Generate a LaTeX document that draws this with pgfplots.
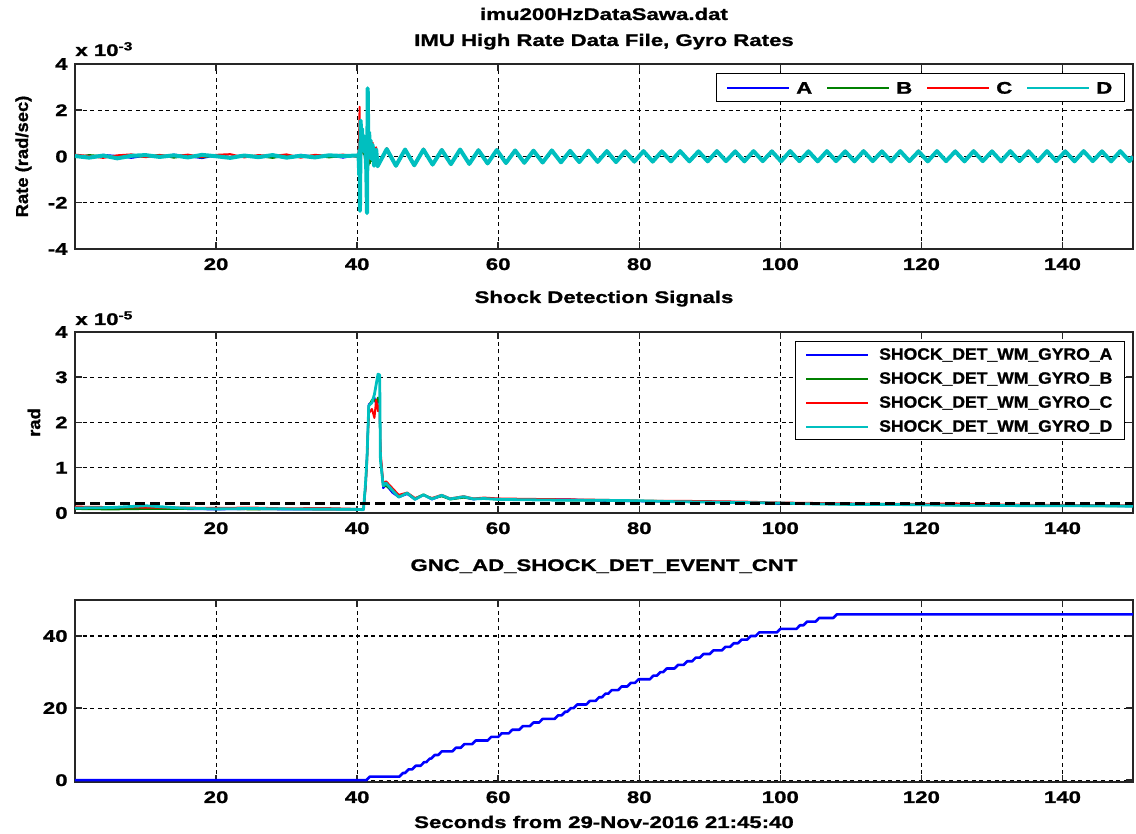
\documentclass[border=0pt]{standalone}
\usepackage{pgfplots}
\pgfplotsset{compat=1.18}
\usepackage{pgfplotstable}
\usepackage{fontspec}
\setmainfont{Liberation Sans}[FakeStretch=1.32, BoldFeatures={FakeBold=1.2}]
\newfontfamily\legfont{Liberation Sans}[FakeStretch=1.07, BoldFeatures={FakeBold=1.0}]
\newcommand\f{\fontsize{8.4pt}{10pt}\selectfont\bfseries}
\newcommand\lf{\legfont\fontsize{8.2pt}{10pt}\selectfont\bfseries}
\newcommand\yf{\legfont\fontsize{8.6pt}{10pt}\selectfont\bfseries}
\definecolor{mblue}{rgb}{0,0,1}
\definecolor{mgreen}{rgb}{0,0.5,0}
\definecolor{mred}{rgb}{1,0,0}
\definecolor{mcyan}{rgb}{0,0.75,0.75}

% gyro rates, units of 1e-3 rad/sec
\pgfplotstableread{
t a b c d
0 0.05 -0.03 0.08 0.02
2 -0.04 0.06 0.02 -0.05
4 0.07 0.01 -0.06 0.04
6 0.02 -0.07 0.05 -0.08
8 -0.06 0.04 0.09 0.03
10 0.04 -0.02 -0.03 0.06
12 -0.03 0.07 0.06 -0.02
14 0.08 -0.05 0.01 0.05
16 0.01 0.03 0.08 -0.04
18 -0.07 -0.04 -0.02 0.07
20 0.05 0.06 0.07 0.01
22 -0.02 -0.03 0.10 -0.06
24 0.06 0.05 -0.04 0.04
26 -0.05 0.02 0.06 -0.03
28 0.03 -0.06 0.02 0.06
30 -0.04 0.04 0.09 -0.05
32 0.07 -0.01 -0.05 0.03
34 -0.01 0.05 0.07 -0.04
36 0.04 -0.04 0.03 0.05
38 -0.05 0.03 0.08 0.02
40 0.06 0.02 -0.02 0.04
40.2 0.1 0.05 0.1 0.08
40.3 0.4 0.3 1.2 -0.8
40.35 1.1 0.9 2.15 0.3
40.4 -0.9 -1.1 0.2 -2.35
40.5 -0.6 0.5 -0.6 1.55
40.6 0.7 0.9 0.9 0.4
40.7 0.3 0.2 0.4 1.2
40.8 0.6 0.7 0.8 0.3
40.9 0.2 0.1 0.3 0.9
41.0 0.5 0.6 0.7 0.2
41.1 0.0 -0.1 0.1 0.6
41.2 0.4 0.3 0.5 0.1
41.3 -0.4 -0.5 -0.3 -0.6
41.4 -1.0 -1.2 -0.8 -2.45
41.5 0.9 0.8 1.05 2.95
41.6 -0.3 -0.4 -0.2 0.2
41.7 0.6 0.5 0.7 1.05
41.8 -0.2 -0.3 -0.1 0.4
41.9 0.5 0.4 0.6 0.7
42.0 -0.1 -0.2 0.0 -0.1
42.2 0.5 0.4 0.6 0.5
42.4 -0.35 -0.4 -0.3 -0.4
42.7 0.35 0.3 0.4 0.3
42.9 -0.38 -0.45 -0.40 -0.42
44.2 0.30 0.28 0.36 0.32
45.5 -0.37 -0.43 -0.38 -0.40
46.8 0.32 0.27 0.33 0.30
48.1 -0.36 -0.41 -0.35 -0.38
49.4 0.28 0.26 0.34 0.30
50.7 -0.34 -0.38 -0.33 -0.35
52.0 0.30 0.26 0.31 0.28
53.3 -0.31 -0.36 -0.34 -0.33
54.6 0.27 0.28 0.33 0.30
55.9 -0.30 -0.35 -0.31 -0.32
57.2 0.29 0.25 0.30 0.27
58.5 -0.29 -0.33 -0.32 -0.30
59.8 0.26 0.27 0.31 0.28
61.1 -0.27 -0.31 -0.26 -0.28
62.4 0.28 0.24 0.29 0.26
63.7 -0.25 -0.30 -0.28 -0.27
65.0 0.27 0.23 0.28 0.25
66.3 -0.24 -0.29 -0.25 -0.26
67.6 0.24 0.25 0.29 0.26
68.9 -0.23 -0.28 -0.27 -0.25
70.2 0.26 0.22 0.27 0.24
71.5 -0.22 -0.27 -0.23 -0.24
72.8 0.23 0.24 0.28 0.25
74.1 -0.21 -0.26 -0.25 -0.23
75.4 0.25 0.21 0.26 0.23
76.7 -0.22 -0.27 -0.22 -0.24
78.0 0.24 0.21 0.25 0.22
79.3 -0.20 -0.25 -0.24 -0.22
80.6 0.21 0.22 0.26 0.23
81.9 -0.21 -0.25 -0.21 -0.22
83.2 0.24 0.20 0.25 0.22
84.5 -0.19 -0.24 -0.23 -0.21
85.8 0.21 0.22 0.26 0.23
87.1 -0.20 -0.24 -0.20 -0.21
88.4 0.24 0.20 0.24 0.22
89.7 -0.19 -0.23 -0.23 -0.21
91.0 0.21 0.22 0.26 0.23
92.3 -0.19 -0.23 -0.21 -0.20
93.6 0.24 0.21 0.25 0.22
94.9 -0.19 -0.24 -0.22 -0.21
96.2 0.21 0.22 0.25 0.23
97.5 -0.18 -0.23 -0.21 -0.20
98.8 0.24 0.20 0.25 0.22
100.1 -0.19 -0.23 -0.22 -0.21
101.4 0.21 0.22 0.26 0.23
102.7 -0.19 -0.23 -0.20 -0.20
104.0 0.24 0.21 0.25 0.22
105.3 -0.19 -0.24 -0.22 -0.21
106.6 0.21 0.22 0.25 0.23
107.9 -0.18 -0.23 -0.21 -0.20
109.2 0.24 0.20 0.25 0.22
110.5 -0.19 -0.24 -0.22 -0.21
111.8 0.21 0.22 0.26 0.23
113.1 -0.19 -0.23 -0.20 -0.20
114.4 0.24 0.21 0.25 0.22
115.7 -0.19 -0.24 -0.23 -0.21
117.0 0.21 0.22 0.25 0.23
118.3 -0.18 -0.23 -0.21 -0.20
119.6 0.24 0.20 0.26 0.22
120.9 -0.19 -0.24 -0.22 -0.21
122.2 0.21 0.22 0.25 0.23
123.5 -0.19 -0.23 -0.20 -0.20
124.8 0.24 0.21 0.25 0.22
126.1 -0.19 -0.24 -0.22 -0.21
127.4 0.21 0.22 0.26 0.23
128.7 -0.18 -0.23 -0.21 -0.20
130.0 0.24 0.20 0.25 0.22
131.3 -0.19 -0.24 -0.23 -0.21
132.6 0.21 0.22 0.25 0.23
133.9 -0.19 -0.23 -0.20 -0.20
135.2 0.24 0.21 0.26 0.22
136.5 -0.19 -0.24 -0.22 -0.21
137.8 0.21 0.22 0.25 0.23
139.1 -0.18 -0.23 -0.21 -0.20
140.4 0.24 0.20 0.25 0.22
141.7 -0.19 -0.24 -0.22 -0.21
143.0 0.21 0.22 0.26 0.23
144.3 -0.19 -0.23 -0.20 -0.20
145.6 0.24 0.21 0.25 0.22
146.9 -0.19 -0.24 -0.22 -0.21
148.2 0.21 0.22 0.25 0.23
149.5 -0.18 -0.23 -0.21 -0.20
150.0 0.01 -0.01 0.02 0.00
}\gyro

% shock detection signals, units of 1e-5 rad
\pgfplotstableread{
t a b c d
0 0.10 0.09 0.14 0.11
5 0.12 0.08 0.13 0.12
10 0.10 0.09 0.12 0.16
15 0.09 0.09 0.12 0.11
20 0.08 0.10 0.11 0.09
25 0.09 0.08 0.12 0.10
30 0.08 0.09 0.10 0.09
35 0.08 0.08 0.11 0.09
40 0.08 0.08 0.09 0.08
40.9 0.07 0.08 0.07 0.07
41.2 0.60 0.65 0.55 0.68
41.4 1.30 1.25 1.10 1.22
41.65 2.40 2.35 2.20 2.37
42.1 2.45 2.50 2.30 2.44
42.45 2.55 2.50 2.10 2.62
42.7 2.40 2.45 2.50 2.84
42.96 2.50 2.55 2.25 3.07
43.2 2.45 2.40 2.40 3.05
43.3 1.30 1.20 1.40 1.18
43.7 0.55 0.60 0.65 0.60
44.1 0.62 0.60 0.70 0.66
45.0 0.45 0.50 0.55 0.50
45.9 0.35 0.38 0.40 0.35
47.1 0.42 0.43 0.45 0.44
48.2 0.30 0.32 0.33 0.30
49.4 0.40 0.41 0.39 0.40
50.6 0.30 0.32 0.33 0.31
52.0 0.38 0.37 0.40 0.39
53.2 0.31 0.30 0.32 0.31
55.1 0.35 0.34 0.37 0.36
56.5 0.30 0.31 0.32 0.31
58 0.33 0.32 0.34 0.32
60 0.31 0.30 0.32 0.30
65 0.30 0.30 0.31 0.29
70 0.30 0.28 0.30 0.28
75 0.27 0.28 0.29 0.28
80 0.26 0.27 0.27 0.27
85 0.25 0.26 0.27 0.25
90 0.25 0.24 0.26 0.24
95 0.24 0.24 0.25 0.23
100 0.20 0.21 0.23 0.22
105 0.20 0.20 0.22 0.20
110 0.20 0.19 0.21 0.19
115 0.19 0.19 0.20 0.19
120 0.18 0.18 0.20 0.18
125 0.18 0.17 0.21 0.17
130 0.17 0.17 0.19 0.17
135 0.17 0.16 0.18 0.16
140 0.16 0.16 0.18 0.16
145 0.16 0.15 0.17 0.16
150 0.15 0.15 0.17 0.15
}\shock

% event counter (sampled; each increment ramps over 0.5 s)
\pgfplotstableread{
t n
0 0
41.3 0
41.8 1
46.0 1
46.5 2
46.8 2
47.3 3
47.8 3
48.3 4
49.0 4
49.5 5
49.8 5
50.3 6
50.5 6
51.0 7
51.5 7
52.0 8
53.5 8
54.0 9
54.7 9
55.2 10
56.3 10
56.8 11
58.5 11
59.0 12
60.0 12
60.5 13
61.5 13
62.0 14
63.0 14
63.5 15
64.5 15
65.0 16
65.8 16
66.3 17
68.0 17
68.5 18
69.0 18
69.5 19
69.8 19
70.3 20
70.7 20
71.2 21
72.5 21
73.0 22
73.8 22
74.3 23
74.7 23
75.2 24
75.6 24
76.1 25
77.0 25
77.5 26
78.3 26
78.8 27
79.4 27
79.9 28
81.5 28
82.0 29
82.5 29
83.0 30
83.4 30
83.9 31
85.0 31
85.5 32
86.3 32
86.8 33
87.5 33
88.0 34
88.6 34
89.1 35
90.0 35
90.5 36
91.7 36
92.2 37
92.9 37
93.4 38
94.0 38
94.5 39
95.3 39
95.8 40
96.5 40
97.0 41
99.5 41
100.0 42
102.3 42
102.8 43
103.3 43
103.8 44
105.0 44
105.5 45
107.5 45
108.0 46
150.0 46
}\cnt

\pgfplotsset{
  mat/.style={
    scale only axis, width=529pt, xmin=0, xmax=150,
    xtick={20,40,...,140},
    grid=major,
    major grid style={black, line width=0.55pt, dash pattern=on 2pt off 1.8pt},
    axis line style={black!85, line width=0.75pt},
    tick style={black!85, line width=0.75pt},
    tick align=inside, major tick length=3.5pt,
    font=\f,
    /pgf/number format/assume math mode=true,
    scaled ticks=false,
    xticklabel style={anchor=base, yshift=-10.5pt, inner sep=0pt, font=\f},
    yticklabel style={anchor=east, xshift=-3.5pt, inner sep=0pt, font=\f},
    title style={at={(0.5,1)}, anchor=base, yshift=8.5pt, inner sep=0pt, font=\f},
    legend image code/.code={\draw[#1, line width=1pt] (0pt,0pt) -- (31pt,0pt);},
    every axis plot/.append style={line join=round},
  }
}

\begin{document}
\begin{tikzpicture}
\path[use as bounding box] (0,0) rectangle (568pt,417pt);

% ---------- top: gyro rates ----------
\begin{axis}[mat,
  at={(37.5pt,292.5pt)}, anchor=south west, height=92.5pt,
  ymin=-4, ymax=4, ytick={-4,-2,0,2,4},
  ylabel={Rate (rad/sec)},
  ylabel style={at={([xshift=-25.75pt]axis description cs:0,0.5)}, anchor=center, inner sep=0pt, font=\yf},
  legend columns=4,
  legend style={at={(1,1)}, anchor=north east, xshift=-4pt, yshift=-4.5pt,
    draw=black, line width=0.7pt, fill=white, font=\f,
    inner xsep=5pt, inner ysep=3pt,
    nodes={inner sep=1pt, text height=6pt, text depth=0pt},
    /tikz/every odd column/.style={column sep=2pt},
    /tikz/every even column/.style={column sep=6pt}},
  extra description/.code={
    \node[anchor=base west, inner sep=0pt, yshift=4pt, font=\f] at (0,1) {x 10\textsuperscript{-3}};
    \node[anchor=base, inner sep=0pt, yshift=22pt, font=\f] at (0.5,1) {imu200HzDataSawa.dat};
    \node[anchor=base, inner sep=0pt, yshift=9pt, font=\f] at (0.5,1) {IMU High Rate Data File, Gyro Rates};
  },
]
\addplot[mblue, line width=1pt] table[x=t,y=a]{\gyro};
\addplot[mgreen, line width=1pt] table[x=t,y=b]{\gyro};
\addplot[mred, line width=1pt] table[x=t,y=c]{\gyro};
\addplot[mcyan, line width=2pt] table[x=t,y=d]{\gyro};
\legend{A,B,C,D}
\end{axis}

% ---------- middle: shock detection ----------
\begin{axis}[mat,
  at={(37.5pt,160.5pt)}, anchor=south west, height=90.5pt,
  ymin=0, ymax=4, ytick={0,1,2,3,4},
  title={Shock Detection Signals},
  ylabel={rad},
  ylabel style={at={([xshift=-20.5pt]axis description cs:0,0.5)}, anchor=center, inner sep=0pt, font=\yf},
  legend cell align=left,
  legend style={at={(1,1)}, anchor=north east, xshift=-4pt, yshift=-4.5pt,
    draw=black, line width=0.7pt, fill=white, font=\lf,
    inner xsep=5pt, inner ysep=2pt, row sep=3pt,
    nodes={inner sep=1pt, text height=6pt, text depth=1pt},
    /tikz/every odd column/.style={column sep=4pt}},
  extra description/.code={
    \node[anchor=base west, inner sep=0pt, yshift=3.5pt, font=\f] at (0,1) {x 10\textsuperscript{-5}};
  },
]
\addplot[mblue, line width=1pt] table[x=t,y=a]{\shock};
\addplot[mgreen, line width=1pt] table[x=t,y=b]{\shock};
\addplot[mred, line width=1pt] table[x=t,y=c]{\shock};
\addplot[mcyan, line width=1.4pt] table[x=t,y=d]{\shock};
\addplot[black, line width=1.3pt, dash pattern=on 5pt off 2.5pt, forget plot] coordinates {(0,0.21) (150,0.21)};
\legend{SHOCK\_DET\_WM\_GYRO\_A,SHOCK\_DET\_WM\_GYRO\_B,SHOCK\_DET\_WM\_GYRO\_C,SHOCK\_DET\_WM\_GYRO\_D}
\end{axis}

% ---------- bottom: event counter ----------
\begin{axis}[mat,
  at={(37.5pt,26pt)}, anchor=south west, height=91pt,
  ymin=-0.5, ymax=50, ytick={0,20,40},
  title={GNC\_AD\_SHOCK\_DET\_EVENT\_CNT},
  xlabel={Seconds from 29-Nov-2016 21:45:40},
  xlabel style={at={([yshift=-23pt]axis description cs:0.5,0)}, anchor=base, inner sep=0pt, font=\f},
]
\addplot[mblue, line width=1.3pt] table[x=t,y=n]{\cnt};
\end{axis}
\end{tikzpicture}
\end{document}
